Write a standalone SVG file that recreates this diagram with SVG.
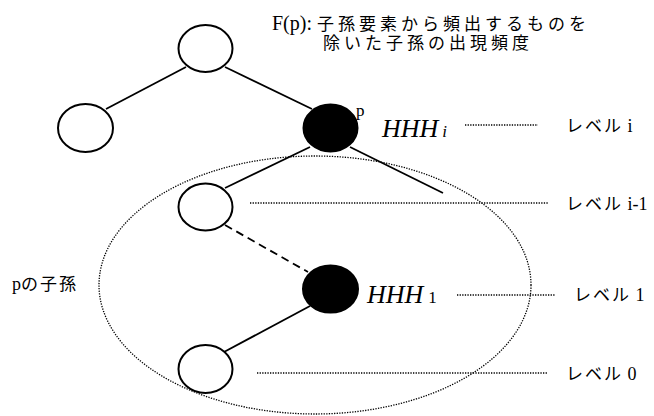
<svg xmlns="http://www.w3.org/2000/svg" width="654" height="416" viewBox="0 0 654 416">
<style>
.n{fill:#fff;stroke:#000;stroke-width:2}
.b{fill:#000;stroke:#000;stroke-width:2}
.e{stroke:#000;stroke-width:1.8;fill:none}
.d{stroke:#000;stroke-width:1.8;fill:none;stroke-dasharray:8 5}
.dot{stroke:#000;stroke-width:1.3;fill:none;stroke-dasharray:1.3 1.3}
text{font-family:"Liberation Serif","Noto Sans CJK JP",serif;fill:#000}
.t{font-size:20px}
.j{font-size:17px;letter-spacing:4px}
.l{font-size:18px}
.k{font-size:17px;letter-spacing:2px}
.h{font-size:26px;font-style:italic}
.s{font-size:17px}
</style>
<rect width="654" height="416" fill="#fff"/>
<g id="connectors">
<line class="e" x1="186" y1="67" x2="106" y2="109"/>
<line class="e" x1="225" y1="67" x2="312" y2="109"/>
<line class="e" x1="310" y1="147" x2="225" y2="188"/>
<line class="e" x1="350" y1="147" x2="443" y2="193"/>
<line class="d" x1="225" y1="225" x2="308" y2="272"/>
<line class="e" x1="310" y1="306" x2="224" y2="352"/>
</g>
<g id="descendants-region">
<ellipse class="dot" cx="315" cy="285" rx="216" ry="129"/>
</g>
<g id="level-lines">
<line class="dot" x1="465" y1="125" x2="538" y2="125"/>
<line class="dot" x1="250" y1="203" x2="548" y2="203"/>
<line class="dot" x1="457" y1="295" x2="555" y2="295"/>
<line class="dot" x1="257" y1="373" x2="548" y2="373"/>
</g>
<g id="root"><ellipse class="n" cx="205.5" cy="48.5" rx="27" ry="23.5"/></g>
<g id="left"><ellipse class="n" cx="85.5" cy="128" rx="27.5" ry="24"/></g>
<g id="p"><ellipse class="b" cx="330.5" cy="128" rx="27" ry="23.5"/>
<text class="s" x="356" y="116">p</text></g>
<g id="level-i-1"><ellipse class="n" cx="205.5" cy="207" rx="27" ry="23.5"/></g>
<g id="hhh1"><ellipse class="b" cx="330.5" cy="289" rx="27.5" ry="23.5"/></g>
<g id="level-0"><ellipse class="n" cx="205.5" cy="369" rx="27" ry="24"/></g>
<g id="labels">
<text class="t" x="272" y="30">F(p): <tspan class="j">子孫要素から頻出するものを</tspan></text>
<text class="j" x="323" y="49">除いた子孫の出現頻度</text>
<text class="h" x="382" y="137">HHH<tspan class="s" style="font-style:italic" dx="4">i</tspan></text>
<text class="h" x="367" y="303">HHH<tspan class="s" style="font-style:normal" dx="5">1</tspan></text>
<text class="l" x="566" y="132"><tspan class="k">レベル</tspan> i</text>
<text class="l" x="566" y="210"><tspan class="k">レベル</tspan> i-1</text>
<text class="l" x="574" y="301"><tspan class="k">レベル</tspan> 1</text>
<text class="l" x="566" y="380"><tspan class="k">レベル</tspan> 0</text>
<text class="l" x="12" y="290">p<tspan class="k">の子孫</tspan></text>
</g>
</svg>
